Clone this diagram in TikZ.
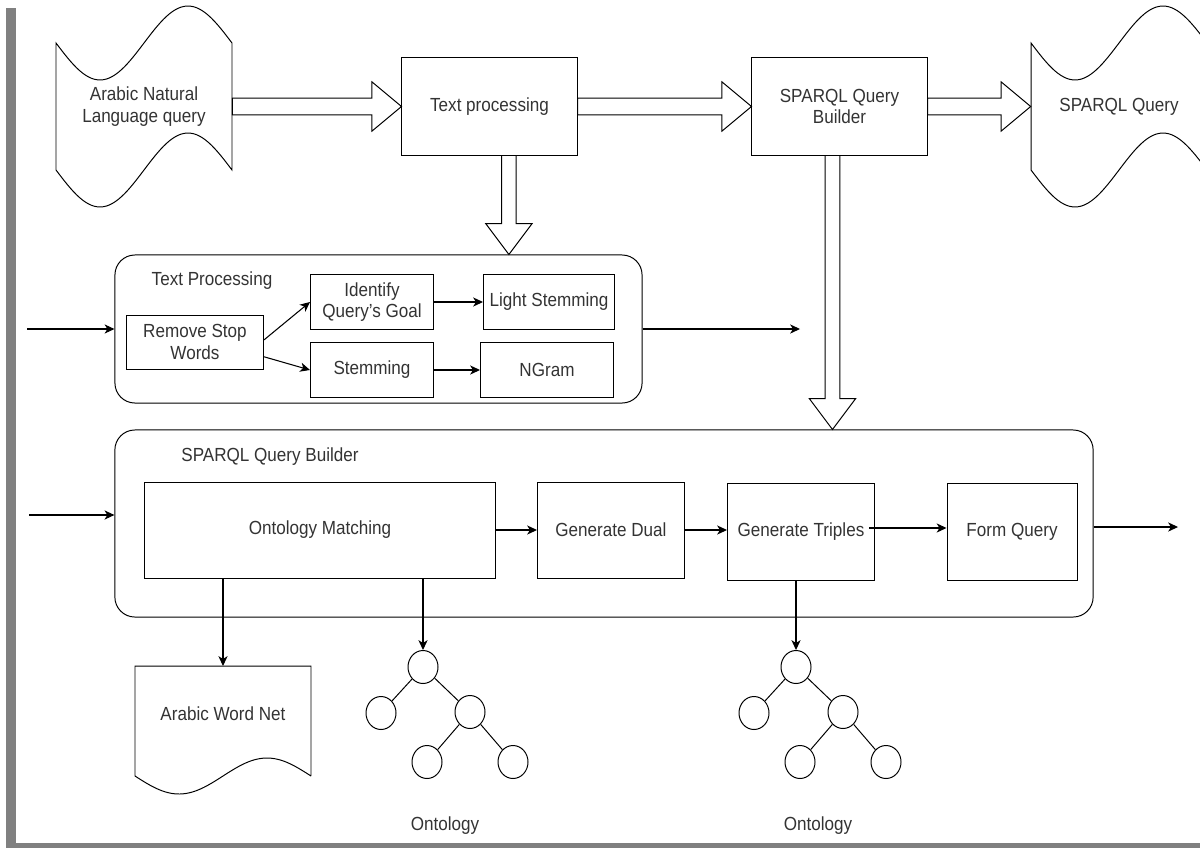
\documentclass[tikz,border=0pt]{standalone}
\usepackage{fontspec}
\setmainfont{Liberation Sans}[FakeStretch=0.9]
\usetikzlibrary{arrows.meta,calc,shapes.geometric}

\tikzset{
  box/.style={draw, line width=0.7pt, inner sep=0pt, align=center},
  group/.style={draw, line width=0.7pt, rounded corners=0.5cm, inner sep=0pt},
  arr/.style={line width=0.75pt, -{Stealth[length=7pt,width=6.5pt,inset=2pt]}},
  leaf/.style={draw, ellipse, line width=0.7pt, minimum width=0.75cm, minimum height=0.825cm, inner sep=0pt},
  hblock/.style={draw, fill=white, line width=0.7pt,
    to path={let \p1=(\tikztostart), \p2=(\tikztotarget) in
      (\x1,\y1+6pt) -- (\x2-21pt,\y1+6pt) -- (\x2-21pt,\y1+17.5pt) -- (\x2,\y1)
      -- (\x2-21pt,\y1-17.5pt) -- (\x2-21pt,\y1-6pt) -- (\x1,\y1-6pt) -- cycle}},
  vblock/.style={draw, fill=white, line width=0.7pt,
    to path={let \p1=(\tikztostart), \p2=(\tikztotarget) in
      (\x1+5.2pt,\y1) -- (\x1+5.2pt,\y2+22pt) -- (\x1+16.5pt,\y2+22pt) -- (\x1,\y2)
      -- (\x1-16.5pt,\y2+22pt) -- (\x1-5.2pt,\y2+22pt) -- (\x1-5.2pt,\y1) -- cycle}}
}

% tape outline: #1 = left x, #2 = top y (pixels)
\newcommand{\tapeoutline}[2]{%
  \draw[line width=0.7pt] plot[domain=0:176, samples=60] ({#1+\x},{#2+37*sin(\x/176*360)})
    -- plot[domain=176:0, samples=60] ({#1+\x},{#2+127+37*sin(\x/176*360)}) -- cycle;}

\begin{document}
\begin{tikzpicture}[x=0.025cm, y=-0.025cm,
  every node/.style={font=\fontsize{13.5}{15.3}\selectfont, text=black!80}]
	\useasboundingbox (0,0) rectangle (1200,848);
	\clip (0,0) rectangle (1200,848);
	\fill[gray] (6,8) rectangle (16,848);
	\fill[gray] (6,843) rectangle (1200,848);

	% top row
	\tapeoutline{56}{43}
	\tapeoutline{1031}{43}
	\node (nlq) [align=center, minimum width=4.4cm, minimum height=3.175cm] at (144,106.5) {Arabic Natural\\Language query};
	\node (tp) [box, minimum width=4.375cm, minimum height=2.425cm] at (489.5,106.5) {Text processing};
	\node (sqb) [box, minimum width=4.375cm, minimum height=2.425cm] at (839.5,106.5) {SPARQL Query\\Builder};
	\node (sq) [minimum width=4.4cm, minimum height=3.175cm] at (1119,106.5) {SPARQL Query};
	\draw[hblock] (nlq.east) to (tp.west);
	\draw[hblock] (tp.east) to (sqb.west);
	\draw[hblock] (sqb.east) to (sq.west);

	% text processing group
	\node (tpc) [group, minimum width=13.175cm, minimum height=3.7cm] at (378.5,329) {};
	\node (tpt) at (212,281) {Text Processing};
	\node (rsw) [box, minimum width=3.425cm, minimum height=1.35cm] at (195,342) {Remove Stop\\Words};
	\node (iqg) [box, minimum width=3.075cm, minimum height=1.375cm] at (372,302) {Identify\\Query's Goal};
	\node (ls) [box, minimum width=3.275cm, minimum height=1.375cm] at (549,302) {Light Stemming};
	\node (stem) [box, minimum width=3.075cm, minimum height=1.375cm] at (372,370) {Stemming};
	\node (ngram) [box, minimum width=3.325cm, minimum height=1.375cm] at (547,370) {NGram};
	\draw[arr] ([yshift=1.5pt]rsw.east) -- (iqg.west);
	\draw[arr] ([yshift=-10.5pt]rsw.east) -- (stem.west);
	\draw[arr] (iqg.east) -- (ls.west);
	\draw[arr] (stem.east) -- (ngram.west);
	\coordinate (tpin) at (27,329);
	\coordinate (tpout) at (800,329);
	\draw[arr] (tpin) -- (tpin -| tpc.west);
	\draw[arr] (tpout -| tpc.east) -- (tpout);
	\draw[vblock] ([xshift=13.8pt]tp.south) to (tpc.north);

	% sparql query builder group
	\node (sqbc) [group, minimum width=24.45cm, minimum height=4.675cm] at (604,523.5) {};
	\node (sqbt) at (270,457) {SPARQL Query Builder};
	\node (om) [box, minimum width=8.775cm, minimum height=2.4cm] at (320,530) {Ontology Matching};
	\node (gd) [box, minimum width=3.675cm, minimum height=2.4cm] at (611,530) {Generate Dual};
	\node (gt) [box, minimum width=3.675cm, minimum height=2.425cm] at (801,531.5) {Generate Triples};
	\node (fq) [box, minimum width=3.25cm, minimum height=2.425cm] at (1012,531.5) {Form Query};
	\draw[arr] (om.east) -- (om.east -| gd.west);
	\draw[arr] (gd.east) -- (gd.east -| gt.west);
	\draw[arr] ([xshift=-4pt,yshift=2.5pt]gt.east) -- ([yshift=2.5pt]fq.west);
	\coordinate (sqin) at (29,515);
	\coordinate (sqout) at (1178,527);
	\draw[arr] (sqin) -- (sqin -| sqbc.west);
	\draw[arr] (sqout -| sqbc.east) -- (sqout);
	\draw[vblock] ([xshift=-5pt]sqb.south) to (sqbc.north);

	% resources
	\draw[line width=0.7pt] (311,776) -- (311,666) -- (135,666) -- (135,776)
		-- plot[domain=0:176, samples=60] ({135+\x},{776+18*sin(\x/176*360)});
	\node (awn) [minimum width=4.4cm, minimum height=2.75cm, text height=9.8pt, text depth=11.6pt, anchor=north] at (223,666) {Arabic Word Net};
	\foreach \t/\dx in {1/0, 2/373} {
		\node (r\t) [leaf] at (423+\dx,667) {};
		\node (a\t) [leaf] at (381+\dx,713) {};
		\node (b\t) [leaf] at (470+\dx,712) {};
		\node (c\t) [leaf] at (427+\dx,762) {};
		\node (d\t) [leaf] at (513+\dx,762) {};
		\draw[line width=0.7pt] (r\t) -- (a\t) (r\t) -- (b\t) (b\t) -- (c\t) (b\t) -- (d\t);
		\node (ont\t) at (445+\dx,826) {Ontology};
	}
	\draw[arr] (om.south -| awn.north) -- (awn.north);
	\draw[arr] (om.south -| r1.north) -- (r1.north);
	\draw[arr] (gt.south -| r2.north) -- (r2.north);
\end{tikzpicture}
\end{document}
